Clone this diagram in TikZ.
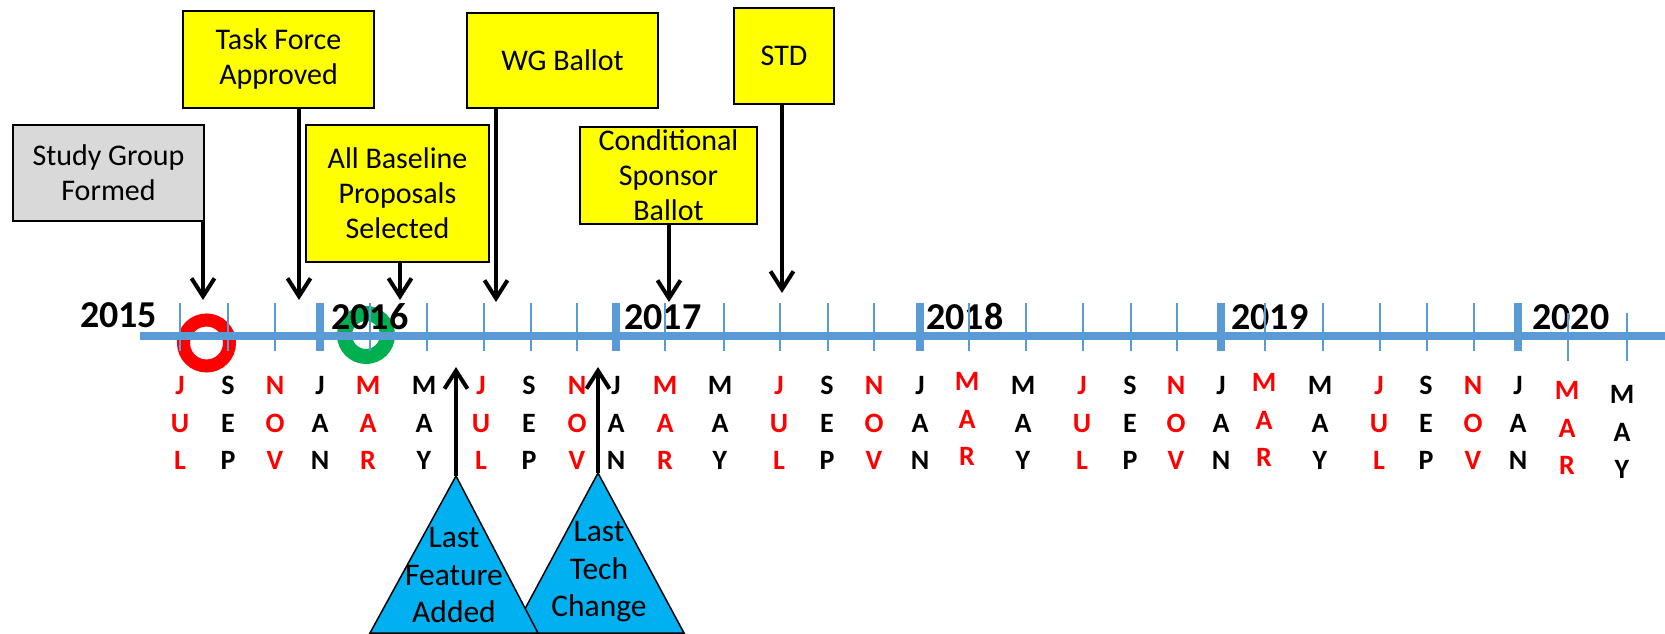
\documentclass[tikz,border=0pt]{standalone}
\usepackage{fontspec}
\setmainfont{Carlito}
\usetikzlibrary{arrows.meta}
\definecolor{barblue}{HTML}{5B9BD5}
\definecolor{boxyellow}{HTML}{FFFF00}
\definecolor{boxgray}{HTML}{D9D9D9}
\definecolor{triblue}{HTML}{00B0F0}
\definecolor{ringgreen}{HTML}{00B050}
\begin{document}
\begin{tikzpicture}[x=1pt,y=-1pt,
	evbox/.style={draw=black,line width=2pt,fill=boxyellow,inner sep=0pt,align=center,font=\fontsize{30}{35}\selectfont},
	trilbl/.style={inner sep=0pt,align=center,font=\fontsize{31.5}{37.5}\selectfont},
	ptr/.style={line width=4pt,-{Straight Barb[length=18pt,width=23pt]}},
	monlbl/.style={inner sep=0pt,anchor=base,font=\fontsize{28}{30}\selectfont\bfseries},
	yrlbl/.style={inner sep=0pt,anchor=base west,font=\fontsize{38}{40}\selectfont\bfseries},
	mtick/.style={barblue,line width=1.5pt}]
	\useasboundingbox (0,0) rectangle (1665,634);
	% rings under the bar
	\draw[red,line width=13pt] (206.5,343) circle[radius=23pt];
	\draw[ringgreen,line width=15pt] (366,335) circle[radius=21.5pt];
	\draw[barblue,line width=8pt] (140,335.5) -- (1665,335.5);
	\node[yrlbl] (y2015) at (80,327) {2015};
	\node[yrlbl] (y2016) at (331,329) {2016};
	\node[yrlbl] (y2017) at (624,329) {2017};
	\node[yrlbl] (y2018) at (926,329) {2018};
	\node[yrlbl] (y2019) at (1231,329) {2019};
	\node[yrlbl] (y2020) at (1532,329) {2020};
	\foreach \x in {180,228,275,370,427,484,531,577,665,724,780,828,874,969,1026,1083,1131,1177,1265,1323,1380,1427,1474}
		\draw[mtick] (\x,303) -- (\x,351);
	\foreach \x in {1568,1627}
		\draw[mtick] (\x,313) -- (\x,361);
	\foreach \x in {320,616,920,1221,1518}
		\draw[mtick,line width=7.5pt] (\x,303) -- (\x,351);
	% month letters
	\foreach \x/\a/\b/\c/\col/\dy [count=\i] in {180/J/U/L/red/0,228/S/E/P/black/0,275/N/O/V/red/0,
		320/J/A/N/black/0,368/M/A/R/red/0,424/M/A/Y/black/0,481/J/U/L/red/0,529/S/E/P/black/0,577/N/O/V/red/0,
		616/J/A/N/black/0,665/M/A/R/red/0,720/M/A/Y/black/0,779/J/U/L/red/0,827/S/E/P/black/0,874/N/O/V/red/0,
		920/J/A/N/black/0,967/M/A/R/red/-4,1023/M/A/Y/black/0,1082/J/U/L/red/0,1130/S/E/P/black/0,1176/N/O/V/red/0,
		1221/J/A/N/black/0,1264/M/A/R/red/-3,1320/M/A/Y/black/0,1379/J/U/L/red/0,1426/S/E/P/black/0,1473/N/O/V/red/0,
		1518/J/A/N/black/0,1567/M/A/R/red/5,1622/M/A/Y/black/9}{
		\node[monlbl,text=\col] (m\i a) at (\x,394+\dy) {\a};
		\node[monlbl,text=\col] (m\i b) at (\x,432+\dy) {\b};
		\node[monlbl,text=\col] (m\i c) at (\x,469+\dy) {\c};
	}
	% milestones above the line
	\node[evbox,fill=boxgray,minimum width=191pt,minimum height=96pt] (sg) at (108.5,173) {Study Group\\Formed};
	\node[evbox,minimum width=191pt,minimum height=97pt] (tf) at (278.5,59.5) {Task Force\\Approved};
	\node[evbox,minimum width=183pt,minimum height=137pt] (abp) at (397.5,193.5) {All Baseline\\Proposals\\Selected};
	\node[evbox,minimum width=191pt,minimum height=95pt] (wg) at (562.5,60.5) {WG Ballot};
	\node[evbox,minimum width=177pt,minimum height=97pt] (csb) at (668.5,175.5) {Conditional\\Sponsor\\Ballot};
	\node[evbox,minimum width=100pt,minimum height=96pt] (std) at (784,56) {STD};
	\coordinate (sg tip) at (203,300);
	\coordinate (tf tip) at (299,300);
	\coordinate (abp tip) at (400,300);
	\coordinate (wg tip) at (496,302);
	\coordinate (csb tip) at (669,302);
	\coordinate (std tip) at (782,293);
	\foreach \n in {sg,tf,abp,wg,csb,std}
		\draw[ptr] (\n.south -| \n\space tip) -- (\n\space tip);
	% milestones below the line
	\coordinate (ltc top) at (598,473);
	\draw[fill=triblue,line width=1.5pt] (ltc top) -- (684,633) -- (512,633) -- cycle;
	\coordinate (lfa top) at (456,476);
	\draw[fill=triblue,line width=1.5pt] (lfa top) -- (538,633) -- (370,633) -- cycle;
	\node[trilbl] (lfa) at (454,575) {Last\\Feature\\Added};
	\node[trilbl] (ltc) at (599,572) {Last\\Tech\\Change};
	\coordinate (lfa tip) at (456,367);
	\coordinate (ltc tip) at (598,367);
	\draw[ptr] (lfa top) -- (lfa tip);
	\draw[ptr] (ltc top) -- (ltc tip);
\end{tikzpicture}
\end{document}
